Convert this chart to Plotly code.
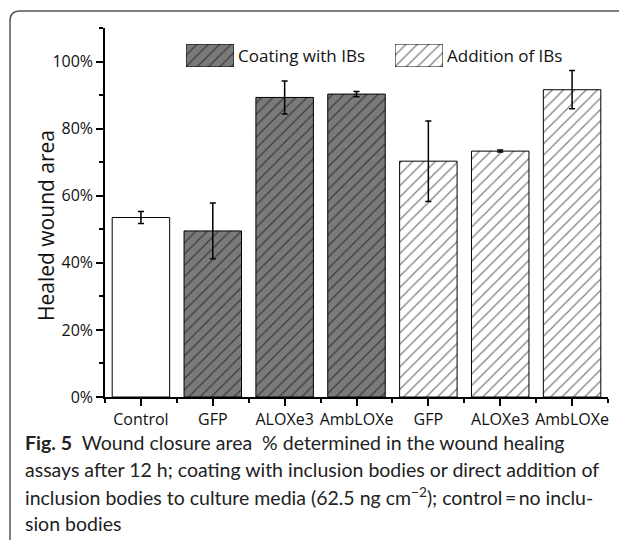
import plotly.graph_objects as go

# ---- data ----
categories = ["Control", "GFP", "ALOXe3", "AmbLOXe", "GFP", "ALOXe3", "AmbLOXe"]
control_vals = [53.5]
control_err = [1.8]
coating_vals = [49.5, 89.3, 90.3]
coating_err = [8.3, 4.9, 0.8]
addition_vals = [70.3, 73.3, 91.6]
addition_err = [12.0, 0.3, 5.7]
group_labels = ["Coating with IBs", "Addition of IBs"]
ytick_vals = [0, 20, 40, 60, 80, 100]
ytick_text = [f"{v}%" for v in ytick_vals]
y_title = "Healed wound area"

# page body adds an 8px offset; compensate so screen coords match
OFF = 8
W, H = 627 - OFF, 540 - OFF
L, R, T, B = 105 - OFF, 19, 28 - OFF, 143
PW, PH = W - L - R, H - T - B


def px(x):  # screen x -> paper
    return (x - OFF - L) / PW


def py(y):  # screen y -> paper
    return 1 - (y - OFF - T) / PH


xpos = list(range(len(categories)))
font_main = "Open Sans"
COAT_BG = "#7a7a7a"
PAT = dict(shape="/", fgcolor="black", size=8, solidity=0.16)

fig = go.Figure()

err_style = dict(type="data", color="black", thickness=1.5, width=3)

fig.add_trace(go.Bar(
    x=xpos[0:1], y=control_vals, width=0.8,
    marker=dict(color="white", line=dict(color="black", width=1)),
    error_y=dict(array=control_err, **err_style), showlegend=False))

fig.add_trace(go.Bar(
    x=xpos[1:4], y=coating_vals, width=0.8,
    marker=dict(color=COAT_BG, line=dict(color="black", width=1),
                pattern=dict(bgcolor=COAT_BG, **PAT)),
    error_y=dict(array=coating_err, **err_style), showlegend=False))

fig.add_trace(go.Bar(
    x=xpos[4:7], y=addition_vals, width=0.8,
    marker=dict(color="white", line=dict(color="black", width=1),
                pattern=dict(bgcolor="white", **PAT)),
    error_y=dict(array=addition_err, **err_style), showlegend=False))

# custom legend patches
fig.add_trace(go.Bar(x=[0], y=[1], width=1, xaxis="x2", yaxis="y2", showlegend=False, hoverinfo="skip",
                     marker=dict(color=COAT_BG, line=dict(color="black", width=1),
                                 pattern=dict(bgcolor=COAT_BG, **PAT))))
fig.add_trace(go.Bar(x=[0], y=[1], width=1, xaxis="x3", yaxis="y3", showlegend=False, hoverinfo="skip",
                     marker=dict(color="white", line=dict(color="black", width=1),
                                 pattern=dict(bgcolor="white", **PAT))))

hidden = dict(visible=False, range=[-0.5, 0.5], fixedrange=True)
hiddeny = dict(visible=False, range=[0, 1], fixedrange=True)

fig.update_layout(
    width=W, height=H,
    margin=dict(l=L, r=R, t=T, b=B),
    paper_bgcolor="white", plot_bgcolor="white",
    font=dict(family=font_main, color="black"),
    bargap=0.2,
    xaxis=dict(
        range=[-0.5, 6.5], tickmode="array", tickvals=xpos, ticktext=categories,
        ticks="outside", ticklen=7, tickwidth=1.5, tickcolor="black",
        minor=dict(tickmode="linear", tick0=-0.5, dtick=1, ticks="outside", ticklen=4, tickwidth=1.5, tickcolor="black"),
        showline=True, linecolor="black", linewidth=1.5, showgrid=False, zeroline=False,
        tickfont=dict(size=16, family=font_main, color="#111"),
    ),
    yaxis=dict(
        range=[0, 110], tickmode="array", tickvals=ytick_vals, ticktext=ytick_text,
        ticks="outside", ticklen=7, tickwidth=1.5, tickcolor="black",
        minor=dict(tickmode="linear", tick0=0, dtick=10, ticks="outside", ticklen=4, tickwidth=1.5, tickcolor="black"),
        showline=True, linecolor="black", linewidth=1.5, showgrid=False, zeroline=False,
        tickfont=dict(size=16, family=font_main, color="#111"),
    ),
    xaxis2=dict(domain=[px(186), px(234)], anchor="y2", **hidden),
    yaxis2=dict(domain=[py(67), py(44)], anchor="x2", **hiddeny),
    xaxis3=dict(domain=[px(395), px(443)], anchor="y3", **hidden),
    yaxis3=dict(domain=[py(67), py(44)], anchor="x3", **hiddeny),
)

# y-axis title
fig.add_annotation(x=px(46), y=py(226), xref="paper", yref="paper", text=y_title, textangle=-90,
                   showarrow=False, xanchor="center", yanchor="middle",
                   font=dict(size=21, family=font_main, color="#111"))

# legend texts
fig.add_annotation(x=px(236), y=py(56), xref="paper", yref="paper", text=group_labels[0],
                   showarrow=False, xanchor="left", yanchor="middle", font=dict(size=17, family=font_main, color="#111"))
fig.add_annotation(x=px(445), y=py(56), xref="paper", yref="paper", text=group_labels[1],
                   showarrow=False, xanchor="left", yanchor="middle", font=dict(size=17, family=font_main, color="#111"))

# frame with rounded top-left corner
x0, xr = px(10), px(640)
yt, yb = py(11), py(560)
rx, ry = 10 / PW, 10 / PH
fig.add_shape(type="path", xref="paper", yref="paper",
              path=f"M {x0},{yb} L {x0},{yt-ry} Q {x0},{yt} {x0+rx},{yt} L {xr},{yt}",
              line=dict(color="#555555", width=1.5))

# caption
caption_lines = [
    "<b>Fig. 5</b>  Wound closure area  % determined in the wound healing",
    "assays after 12 h; coating with inclusion bodies or direct addition of",
    "inclusion bodies to culture media (62.5 ng cm<sup>−2</sup>); control\u2009=\u2009no inclu-",
    "sion bodies",
]
caption_y = [442, 469, 496, 523]
for txt, yy in zip(caption_lines, caption_y):
    fig.add_annotation(x=px(23), y=py(yy), xref="paper", yref="paper", text=txt, showarrow=False,
                       xanchor="left", yanchor="middle", font=dict(size=19.5, family="Lato", color="#222"))

fig.write_html("out.html")
